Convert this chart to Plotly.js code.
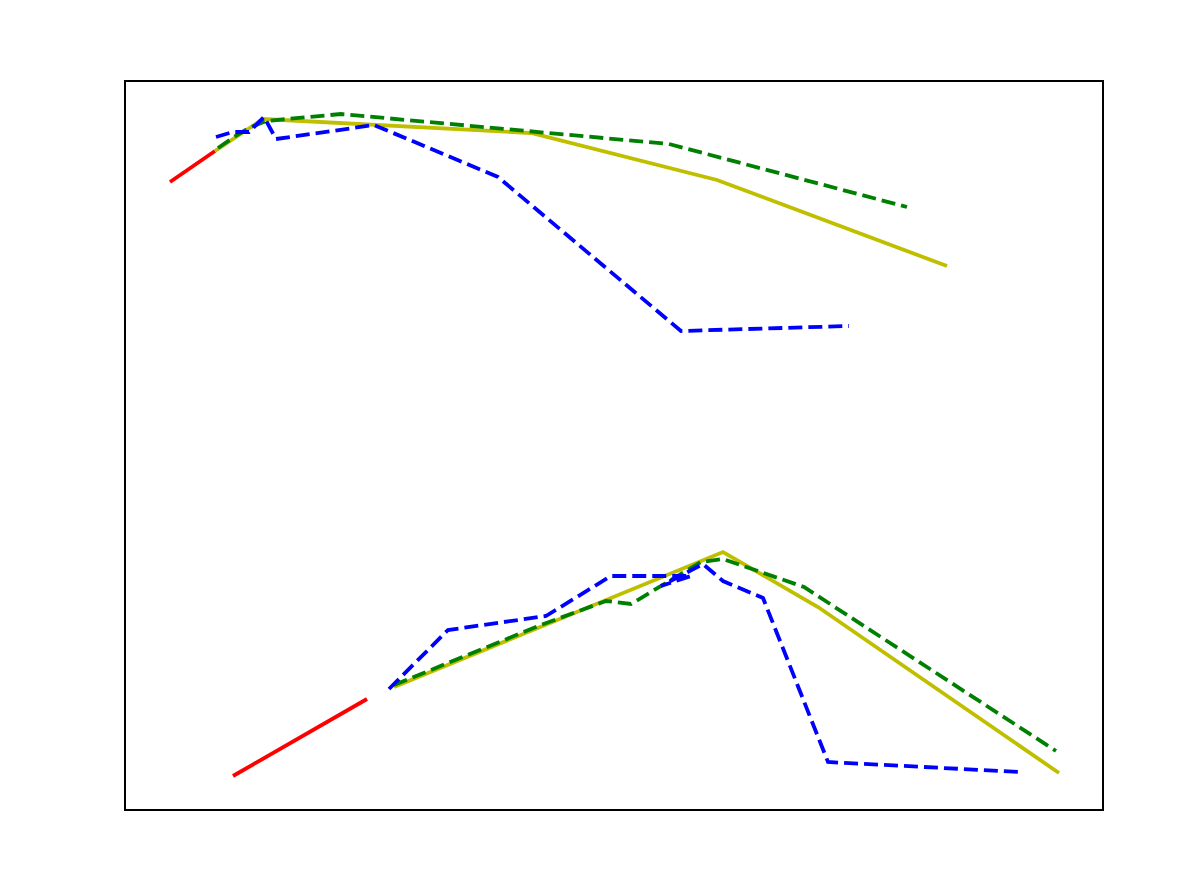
<!DOCTYPE html>
<html>
<head>
<meta charset="utf-8">
<script src="https://cdn.plot.ly/plotly-3.0.1.min.js"></script>
<style>html,body{margin:0;padding:0;background:#fff;}#chart{width:1196px;height:881px;}</style>
</head>
<body>
<div id="chart"></div>
<script>
// Upper group
const upperRedX = [44, 89];
const upperRedY = [627, 658];
const upperYellowX = [89, 137, 405, 591, 821];
const upperYellowY = [658, 690, 676, 629, 543];
const upperGreenX = [92, 108, 123, 140, 215, 405, 543, 781];
const upperGreenY = [661, 672, 681, 688, 695, 678, 665, 602];
const upperBlueX = [90, 107, 123, 138, 150, 248, 372, 555, 723];
const upperBlueY = [672, 677, 677, 692, 670, 684, 632, 478, 483];
// Lower group
const lowerRedX = [107, 241];
const lowerRedY = [33, 110];
const lowerYellowX = [268, 415, 597, 692, 933];
const lowerYellowY = [122, 182, 257, 202, 36];
const lowerGreenX = [268, 415, 480, 505, 575, 597, 678, 930];
const lowerGreenY = [124, 184, 208, 205, 247, 250, 222, 58];
const lowerBlueX = [263, 322, 420, 485, 565, 535, 577, 597, 637, 702, 894];
const lowerBlueY = [120, 179, 193, 233, 233, 223, 245, 228, 211, 47, 37];

const dash = '14px,6px';
function tr(x, y, color, d) {
  return {x: x, y: y, type: 'scatter', mode: 'lines', showlegend: false, hoverinfo: 'skip',
          line: {color: color, width: 3.8, dash: d || 'solid'}};
}
const data = [
  tr(upperRedX, upperRedY, '#ff0000'),
  tr(lowerRedX, lowerRedY, '#ff0000'),
  tr(upperYellowX, upperYellowY, '#bfbf00'),
  tr(lowerYellowX, lowerYellowY, '#bfbf00'),
  tr(upperGreenX, upperGreenY, '#008000', dash),
  tr(lowerGreenX, lowerGreenY, '#008000', dash),
  tr(upperBlueX, upperBlueY, '#0000ff', dash),
  tr(lowerBlueX, lowerBlueY, '#0000ff', dash)
];
const axisCommon = {showgrid: false, zeroline: false, showticklabels: false, ticks: '',
  showline: true, mirror: true, linecolor: '#000', linewidth: 1.8, fixedrange: true};
const layout = {
  width: 1196, height: 881,
  margin: {l: 126, r: 94, t: 82, b: 72, pad: 0},
  paper_bgcolor: '#fff', plot_bgcolor: '#fff',
  xaxis: Object.assign({range: [0, 976]}, axisCommon),
  yaxis: Object.assign({range: [0, 727]}, axisCommon),
  showlegend: false
};
Plotly.newPlot('chart', data, layout, {displayModeBar: false, staticPlot: true});
</script>
</body>
</html>
